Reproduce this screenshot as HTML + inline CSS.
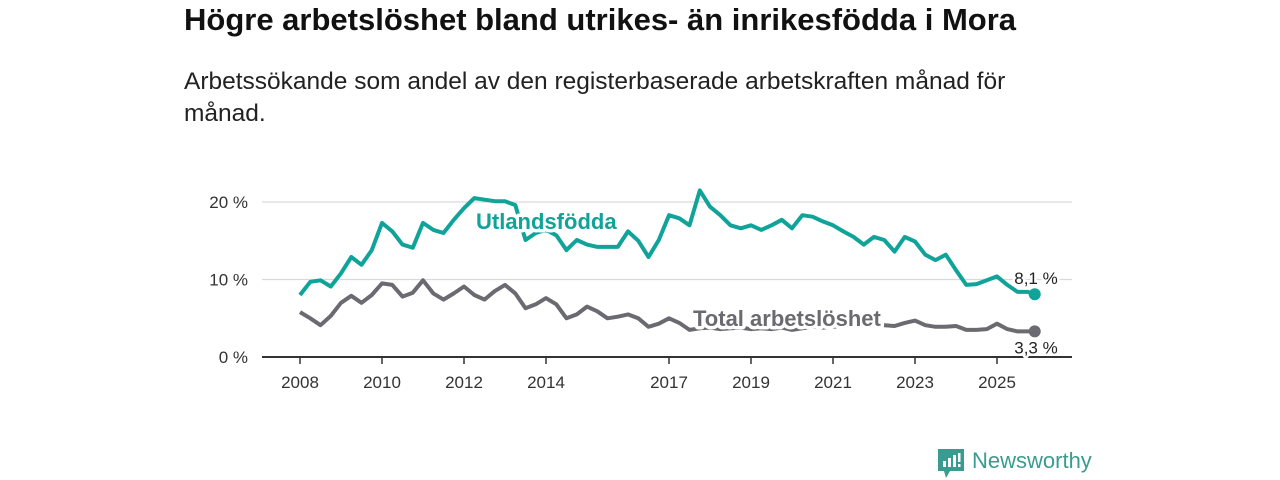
<!DOCTYPE html>
<html><head><meta charset="utf-8"><style>
body{margin:0;width:1280px;height:480px;background:#fff;overflow:hidden;font-family:"Liberation Sans",sans-serif;}
#title{position:absolute;left:184px;top:2px;font-size:31px;font-weight:bold;color:#111;margin:0;white-space:nowrap;line-height:36px}
#sub{position:absolute;left:184px;top:66px;font-size:24.5px;color:#222;line-height:32px;margin:0;white-space:nowrap}
svg{position:absolute;left:0;top:0}
</style></head><body>
<h1 id="title">Högre arbetslöshet bland utrikes- än inrikesfödda i Mora</h1>
<p id="sub">Arbetssökande som andel av den registerbaserade arbetskraften månad för<br>månad.</p>
<svg id="chart" width="1280" height="480"></svg>
<script>
const dates=[];for(let i=0;i<72;i++)dates.push(2008+i*0.25);dates.push(2025.92);
const foreignVals=[8.0,9.7,9.9,9.1,10.8,12.9,11.9,13.8,17.3,16.2,14.5,14.1,17.3,16.4,16.0,17.7,19.2,20.5,20.3,20.1,20.1,19.6,15.1,16.0,16.4,15.7,13.8,15.1,14.5,14.2,14.2,14.2,16.2,15.0,12.9,15.1,18.3,17.9,17.0,21.5,19.4,18.3,17.0,16.6,17.0,16.4,17.0,17.7,16.6,18.3,18.1,17.5,17.0,16.2,15.5,14.5,15.5,15.1,13.6,15.5,14.9,13.2,12.5,13.2,11.2,9.3,9.4,9.9,10.4,9.3,8.4,8.4,8.1];
const totalVals=[5.8,5.0,4.1,5.3,7.0,7.9,7.0,8.0,9.5,9.3,7.8,8.3,9.9,8.2,7.4,8.2,9.1,8.0,7.4,8.5,9.3,8.2,6.3,6.8,7.6,6.8,5.0,5.5,6.5,5.9,5.0,5.2,5.5,5.0,3.9,4.3,5.0,4.4,3.5,3.7,3.8,3.6,3.7,3.8,3.6,3.7,3.6,3.8,3.5,3.7,3.9,3.8,3.9,4.0,4.2,4.0,4.1,4.1,4.0,4.4,4.7,4.1,3.9,3.9,4.0,3.5,3.5,3.6,4.3,3.6,3.3,3.3,3.3];
const yTicks=[0,10,20];const yTickLabels=["0 %","10 %","20 %"];
const xTicks=[2008,2010,2012,2014,2017,2019,2021,2023,2025];
const NS="http://www.w3.org/2000/svg";const svg=document.getElementById('chart');
const X=d=>300+(d-2008)*41;const Y=v=>357-v*7.75;
function el(t,a,p){const e=document.createElementNS(NS,t);for(const k in a)e.setAttribute(k,a[k]);(p||svg).appendChild(e);return e;}
yTicks.forEach((t,i)=>{
 if(t>0){const g=el('line',{x1:262,x2:1072,y1:Y(t),y2:Y(t),stroke:'#d9d9d9','stroke-width':1.3});
 
 }
 const tx=el('text',{x:248,y:Y(t)+6,'text-anchor':'end','font-size':17,fill:'#333'});tx.textContent=yTickLabels[i];
 
 
});
const ax=el('line',{x1:262,x2:1072,y1:357,y2:357,stroke:'#333','stroke-width':2});


xTicks.forEach(t=>{
 const tk=el('line',{x1:X(t),x2:X(t),y1:357,y2:364,stroke:'#333','stroke-width':1.5});
 
 
 const tx=el('text',{x:X(t),y:388,'text-anchor':'middle','font-size':17,fill:'#333'});tx.textContent=t;
 
 
});
function series(vals,color,name){
 const d=vals.map((v,i)=>(i?'L':'M')+X(dates[i]).toFixed(1)+','+Y(v).toFixed(1)).join('');
 const p=el('path',{d:d,fill:'none',stroke:color,'stroke-width':4,'stroke-linejoin':'round'});
 
 
 const n=vals.length-1;
 const c=el('circle',{cx:X(dates[n]),cy:Y(vals[n]),r:6,fill:color});
 
 
}
series(totalVals,'#6b6a70','total');
series(foreignVals,'#0fa399','foreign');
function label(txt,x,y,color,size,bold,name,anchor){
 const t=el('text',{x:x,y:y,fill:color,'font-size':size,'font-weight':bold?'bold':'normal',stroke:'#fff','stroke-width':bold?7:5,'paint-order':'stroke','stroke-linejoin':'round','text-anchor':anchor||'start'});
 t.textContent=txt;
 
 
}
label('Utlandsfödda',476,229,'#0fa399',22,true,'foreign-series-label');
label('Total arbetslöshet',693,326,'#6b6a70',22,true,'total-series-label');
const nf=foreignVals.length-1;
label(String(foreignVals[nf]).replace('.',',')+' %',1036,Y(foreignVals[nf])-10,'#222',17,false,'foreign-end-value','middle');
label(String(totalVals[nf]).replace('.',',')+' %',1036,Y(totalVals[nf])+22,'#222',17,false,'total-end-value','middle');
</script>
<div style="position:absolute;left:938px;top:449px;height:30px;display:flex;align-items:center">
 <svg width="26" height="30" style="position:static"><path d="M0 0H26V22H12L8 29L6 22H0Z" fill="#3a9c91"/><rect x="5" y="12" width="3" height="6" fill="#fff"/><rect x="10" y="9" width="3" height="9" fill="#fff"/><rect x="15" y="6" width="3" height="12" fill="#fff"/><rect x="20" y="4" width="2.5" height="9" fill="#fff"/><rect x="20" y="15" width="2.5" height="3" fill="#fff"/></svg>
 <span style="margin-left:8px;font-size:22px;color:#3a9c91;margin-top:-6px">Newsworthy</span>
</div>
</body></html>
